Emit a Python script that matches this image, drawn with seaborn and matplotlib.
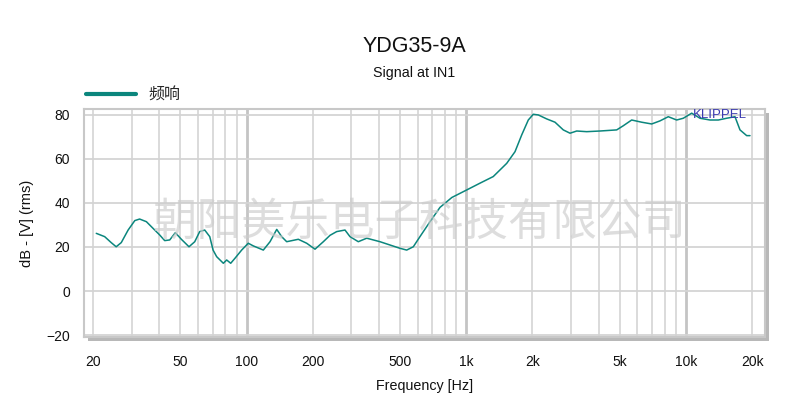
import numpy as np
import pandas as pd
import matplotlib
matplotlib.use("Agg")
import matplotlib.pyplot as plt
import seaborn as sns
from matplotlib.lines import Line2D
from matplotlib.patches import Rectangle
from matplotlib.ticker import FixedLocator, NullFormatter, MultipleLocator

# ---- data ----
freq_hz = [20.7, 22.6, 24.2, 25.5, 26.9, 28.9, 31.0, 32.6, 35.0, 37.5, 40.2, 42.4, 44.7,
           47.4, 50.5, 54.7, 58.1, 61.2, 64.5, 68.0, 70.4, 73.1, 78.4, 81.2, 84.7, 88.6,
           95.0, 101.8, 107.3, 119.2, 127.9, 137.2, 144.5, 152.3, 172.0, 187.8, 204.9,
           223.6, 239.8, 257.2, 280.6, 295.7, 322.6, 352.3, 404.9, 449.7, 499.4, 535.7,
           574.1, 615.6, 683.9, 759.5, 860.0, 1004, 1155, 1327, 1528, 1667, 1788, 1916,
           2019, 2128, 2323, 2535, 2765, 2967, 3183, 3534, 4062, 4839, 5187, 5662, 6288,
           6983, 7617, 8309, 9075, 9725, 10620, 11587, 12870, 14040, 15330, 16720, 17620,
           18900, 19570]
level_db = [26.2, 24.7, 22.0, 20.1, 22.0, 27.7, 32.0, 32.7, 31.5, 28.5, 25.5, 22.9, 23.2,
            26.5, 23.5, 20.1, 22.4, 27.0, 27.7, 24.7, 18.6, 15.6, 12.6, 14.1, 12.6, 14.9,
            18.6, 21.7, 20.5, 18.6, 22.4, 28.0, 24.7, 22.4, 23.5, 21.7, 19.0,
            22.4, 25.3, 27.0, 27.7, 24.7, 22.4, 24.0, 22.4, 20.9, 19.4, 18.6,
            20.1, 24.7, 31.5, 38.0, 42.5, 45.9, 49.0, 52.0, 58.0, 63.3, 70.9, 77.7,
            80.3, 80.0, 78.2, 76.7, 73.2, 71.7, 72.7, 72.4, 72.7, 73.2, 75.1, 77.7, 76.7,
            75.9, 77.3, 79.2, 77.7, 78.5, 80.8, 78.5, 77.7, 77.7, 78.5, 79.2, 73.2,
            70.6, 70.6]
x_ticks = [20, 50, 100, 200, 500, 1000, 2000, 5000, 10000, 20000]
x_tick_labels = ["20", "50", "100", "200", "500", "1k", "2k", "5k", "10k", "20k"]
y_ticks = [-20, 0, 20, 40, 60, 80]
series_name = "频响"
title = "YDG35-9A"
subtitle = "Signal at IN1"
watermark = "朝阳美乐电子科技有限公司"

df = pd.DataFrame({"freq": freq_hz, "db": level_db})

sns.set_style("white")
plt.rcParams["font.family"] = ["Liberation Sans", "Noto Sans CJK SC", "DejaVu Sans"]

W, H = 790, 394
fig = plt.figure(figsize=(W / 100, H / 100), dpi=100)
L, R, T, B = 84, 765, 109, 337
ax = fig.add_axes([L / W, 1 - B / H, (R - L) / W, (B - T) / H])
ax.set_facecolor("white")

# shadow of the frame
fig.patches.append(Rectangle(((L + 4) / W, 1 - (B + 4) / H), (R - L) / W, (B - T) / H,
                             transform=fig.transFigure, facecolor="#b8b8b8",
                             edgecolor="none", zorder=-5))

teal = "#0b867d"
sns.lineplot(data=df, x="freq", y="db", ax=ax, color=teal, linewidth=1.1,
             legend=False, zorder=4)

ax.set_xscale("log")
ax.set_xlim(18.2, 22900)
ax.set_ylim(-20.9, 82.7)

# grid
minor_lines = [m * 10 ** e for e in range(1, 5) for m in range(2, 10) if m * 10 ** e <= 20000]
for v in minor_lines:
    ax.axvline(v, color="#d4d4d4", lw=1.2, zorder=1)
for v in [100, 1000, 10000]:
    ax.axvline(v, color="#c4c4c4", lw=2.0, zorder=1)
for v in y_ticks:
    ax.axhline(v, color="#d4d4d4", lw=1.3, zorder=1)

ax.xaxis.set_major_locator(FixedLocator(x_ticks))
ax.set_xticklabels(x_tick_labels)
ax.xaxis.set_minor_formatter(NullFormatter())
ax.xaxis.set_minor_locator(FixedLocator([]))
ax.set_yticks(y_ticks)
ax.yaxis.set_minor_locator(MultipleLocator(5))
ax.tick_params(axis="x", which="both", length=0, pad=13, labelsize=10, colors="#111111")
ax.tick_params(axis="y", which="major", direction="out", length=6, width=1.2,
               color="#cccccc", pad=4, labelsize=10, labelcolor="#111111")
ax.tick_params(axis="y", which="minor", direction="inout", length=8, width=1, color="#cfcfcf")

for s in ax.spines.values():
    s.set_color("#c8c8c8")
    s.set_linewidth(1.5)

ax.set_xlabel("Frequency [Hz]", fontsize=10.3, labelpad=7, color="#111111")
ax.set_ylabel("dB - [V] (rms)", fontsize=10.5, labelpad=9, color="#111111")

# watermark
fig.text(419 / W, 1 - 222 / H, watermark, fontsize=32, color="#cccccc", alpha=0.65,
         ha="center", va="center", family=["Noto Sans CJK SC", "DejaVu Sans"], zorder=3)

# KLIPPEL mark
ax.text((720 - L) / (R - L), 1 - (115 - T) / (B - T), "KLIPPEL", transform=ax.transAxes,
        ha="center", va="center", fontsize=9.5, color="#3a3ab0", zorder=5)

# titles
fig.text(414 / W, 1 - 47 / H, title, fontsize=15.5, ha="center", va="center", color="#111111")
fig.text(414 / W, 1 - 73 / H, subtitle, fontsize=10.3, ha="center", va="center", color="#111111")

# legend
fig.legend(handles=[Line2D([], [], color=teal, lw=3)], labels=[series_name],
           loc="center left", bbox_to_anchor=(72 / W, 1 - 95 / H), frameon=False,
           handlelength=3.1, handletextpad=0.8,
           prop={"family": ["Noto Sans CJK SC", "DejaVu Sans"], "size": 11.5})

fig.savefig("out.png", dpi=100)
